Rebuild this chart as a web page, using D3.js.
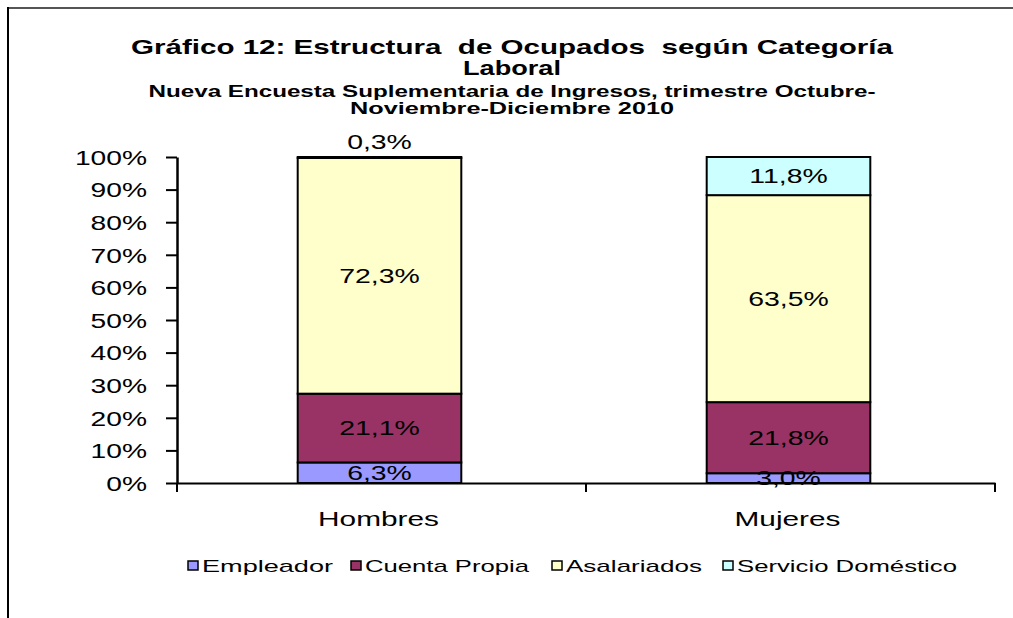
<!DOCTYPE html>
<html>
<head>
<meta charset="utf-8">
<script src="https://cdn.jsdelivr.net/npm/d3@7"></script>
<style>
  body { margin: 0; background: #fff; }
  svg { font-family: "Liberation Sans", Arial, sans-serif; }
</style>
</head>
<body>
<div id="chart-area"></div>
<script>
// data
var categories = ["Hombres", "Mujeres"];
var series = ["Empleador", "Cuenta Propia", "Asalariados", "Servicio Doméstico"];
var empleador = [6.3, 3.0];
var cuentaPropia = [21.1, 21.8];
var asalariados = [72.3, 63.5];
var servicioDomestico = [0.3, 11.8];
var yTicks = [0, 10, 20, 30, 40, 50, 60, 70, 80, 90, 100];

var colors = ["#9999FF", "#993366", "#FFFFCC", "#CCFFFF"];

var W = 1013, H = 618;
var margin = {left: 177, right: 18, top: 157, bottom: 135};
var width = W - margin.left - margin.right,
    height = H - margin.top - margin.bottom;

// the original picture is stretched sideways, so text is too
function stretch(sel, sx) {
  sel.each(function () {
    var t = d3.select(this);
    var px = +t.attr("x") || 0;
    t.attr("x", 0).attr("transform", "translate(" + px + ",0) scale(" + sx + ",1)");
  });
}

var svg = d3.select("#chart-area")
  .append("svg")
  .attr("width", W)
  .attr("height", H);

// outer frame (only left and top visible)
svg.append("line")
  .attr("x1", 8).attr("y1", 8).attr("x2", W).attr("y2", 8)
  .attr("stroke", "#555").attr("stroke-width", 2);
svg.append("line")
  .attr("x1", 8).attr("y1", 7).attr("x2", 8).attr("y2", H)
  .attr("stroke", "#000").attr("stroke-width", 2);

// title
var titleLines = [
  {t: "Gráfico 12: Estructura  de Ocupados  según Categoría", y: 54, w: 762, size: 21},
  {t: "Laboral", y: 75, w: 98, size: 21},
  {t: "Nueva Encuesta Suplementaria de Ingresos, trimestre Octubre-", y: 97, w: 727, size: 16},
  {t: "Noviembre-Diciembre 2010", y: 114, w: 324, size: 16}
];
titleLines.forEach(function (l) {
  svg.append("text")
    .attr("x", 512)
    .attr("y", l.y)
    .attr("text-anchor", "middle")
    .attr("xml:space", "preserve")
    .attr("textLength", l.w)
    .attr("lengthAdjust", "spacingAndGlyphs")
    .style("font-weight", "bold")
    .style("font-size", l.size + "px")
    .text(l.t);
});

var g = svg.append("g")
  .attr("transform", "translate(" + margin.left + "," + margin.top + ")");

var x = d3.scaleBand()
  .domain(categories)
  .range([0, width]);

var y = d3.scaleLinear()
  .domain([0, 100])
  .range([height, 0]);

// build stack table
var table = categories.map(function (c, i) {
  return {
    cat: c,
    "Empleador": empleador[i],
    "Cuenta Propia": cuentaPropia[i],
    "Asalariados": asalariados[i],
    "Servicio Doméstico": servicioDomestico[i]
  };
});
var stacked = d3.stack().keys(series)(table);

var barW = x.bandwidth() * 0.4;

var layer = g.selectAll(".layer")
  .data(stacked)
  .enter()
  .append("g")
  .attr("class", "layer")
  .attr("fill", function (d, i) { return colors[i]; });

layer.selectAll("rect")
  .data(function (d) { return d; })
  .enter()
  .append("rect")
  .attr("x", function (d) { return x(d.data.cat) + (x.bandwidth() - barW) / 2 - 2; })
  .attr("y", function (d) { return y(Math.min(d[1], 100)); })
  .attr("width", barW)
  .attr("height", function (d) { return y(d[0]) - y(Math.min(d[1], 100)); })
  .attr("stroke", "#000")
  .attr("stroke-width", 2);

// value labels
stacked.forEach(function (s) {
  s.forEach(function (d) {
    var v = d[1] - d[0];
    var cy = (y(d[0]) + y(Math.min(d[1], 100))) / 2 + 7;
    if (v < 1) cy = y(100) - 8;
    g.append("text")
      .attr("class", "vlabel")
      .attr("x", x(d.data.cat) + x.bandwidth() / 2 - 2)
      .attr("y", cy)
      .attr("text-anchor", "middle")
      .style("font-size", "20px")
      .text(d3.format(".1f")(v).replace(".", ",") + "%");
  });
});
stretch(g.selectAll(".vlabel"), 1.42);

// y axis
var yAxis = g.append("g")
  .call(d3.axisLeft(y).tickValues(yTicks).tickSize(11).tickSizeOuter(0)
    .tickFormat(function (d) { return d + "%"; }));
yAxis.select(".domain").attr("stroke-width", 2.5);
yAxis.selectAll(".tick line").attr("stroke-width", 2);
yAxis.selectAll("text")
  .style("font-size", "20px")
  .attr("x", -30)
  .attr("dy", "0.36em");
stretch(yAxis.selectAll("text"), 1.41);

// x axis
var xAxis = g.append("g")
  .attr("transform", "translate(0," + height + ")")
  .call(d3.axisBottom(x).tickSize(0).tickSizeOuter(0));
xAxis.select(".domain").attr("stroke-width", 2);
xAxis.selectAll("text")
  .style("font-size", "21px")
  .attr("y", 28)
  .attr("x", -3);
stretch(xAxis.selectAll("text"), 1.42);

// x axis boundary ticks
var boundaries = [0].concat(categories.map(function (c) { return x(c) + x.bandwidth(); }));
g.selectAll(".xtick")
  .data(boundaries)
  .enter()
  .append("line")
  .attr("x1", function (d) { return d; })
  .attr("x2", function (d) { return d; })
  .attr("y1", height)
  .attr("y2", height + 9)
  .attr("stroke", "#000")
  .attr("stroke-width", 2);

// legend
var legendX = [188, 351, 552, 723];
var legendW = [131, 164, 136, 220];
var legend = svg.append("g").attr("class", "legend");
series.forEach(function (s, i) {
  legend.append("rect")
    .attr("x", legendX[i])
    .attr("y", 561)
    .attr("width", 10)
    .attr("height", 9)
    .attr("fill", colors[i])
    .attr("stroke", "#000")
    .attr("stroke-width", 1.5);
  legend.append("text")
    .attr("x", legendX[i] + 14)
    .attr("y", 572)
    .attr("textLength", legendW[i])
    .attr("lengthAdjust", "spacingAndGlyphs")
    .style("font-size", "17px")
    .text(s);
});
</script>
</body>
</html>
